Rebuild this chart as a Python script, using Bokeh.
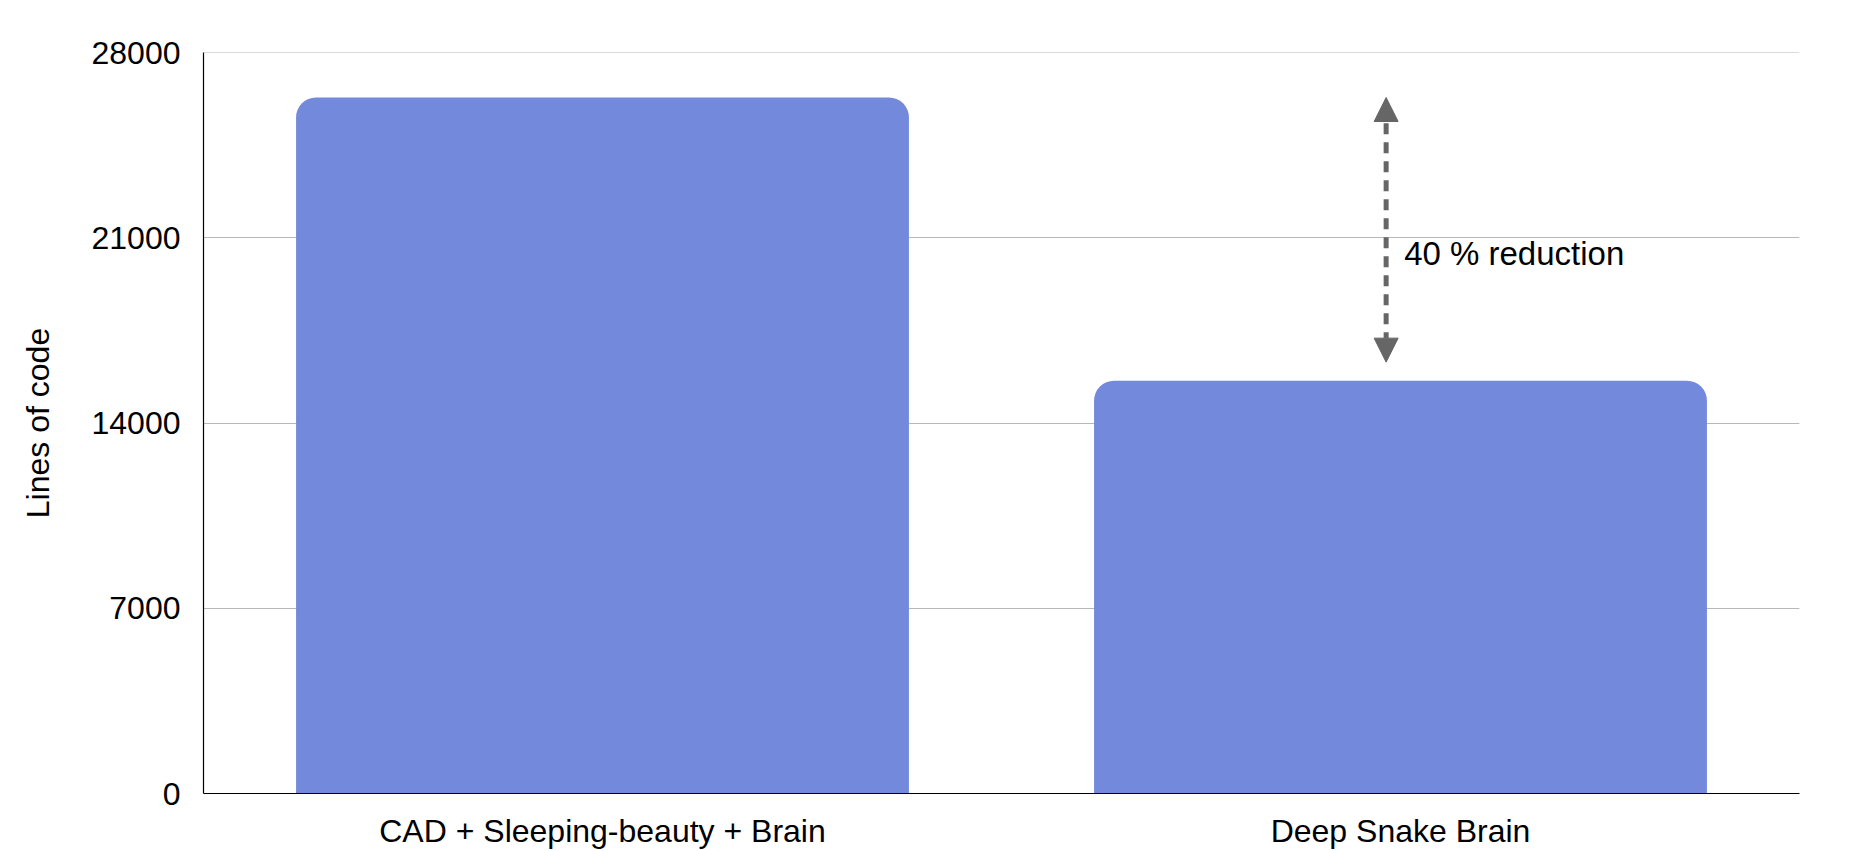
from bokeh.plotting import figure
from bokeh.models import FixedTicker, Range1d, Arrow, NormalHead, ColumnDataSource, Span
from bokeh.core.properties import value
from bokeh.embed import file_html
from bokeh.resources import INLINE

# ---- data ----
categories = ["CAD + Sleeping-beauty + Brain", "Deep Snake Brain"]
lines_of_code = [26300, 15600]
y_ticks = [0, 7000, 14000, 21000, 28000]
y_max = 28000
annotation_text = "40 % reduction"
arrow_gap = 700          # gap between arrow tip and lower bar (data units)
label_y = 20400          # baseline of annotation text (data units)

FONT = "Liberation Sans"
BAR_COLOR = "#7389DB"
GREY = "#666666"
GRID = "#b8b8b8"

x_pos = [i + 0.5 for i in range(len(categories))]
src = ColumnDataSource(dict(x=x_pos, top=lines_of_code, cat=categories))

p = figure(width=1839, height=851, output_backend="svg", toolbar_location=None,
           x_range=Range1d(0, len(categories)), y_range=Range1d(0, y_max),
           min_border_left=203, min_border_right=40, min_border_top=52, min_border_bottom=57)
p.outline_line_color = None
p.background_fill_color = "white"

p.vbar(x="x", top="top", width=0.768, bottom=0, source=src,
       fill_color=BAR_COLOR, line_color=None, border_radius=(20, 20, 0, 0))

# axes
p.xaxis.ticker = FixedTicker(ticks=x_pos)
p.xaxis.major_label_overrides = {x: c for x, c in zip(x_pos, categories)}
p.yaxis.ticker = FixedTicker(ticks=y_ticks)
for ax in (p.xaxis, p.yaxis):
    ax.major_tick_line_color = None
    ax.minor_tick_line_color = None
    ax.major_tick_out = 0
    ax.major_tick_in = 0
    ax.axis_line_color = "black"
    ax.axis_line_width = 1.2
    ax.major_label_text_font = FONT
    ax.major_label_text_color = "black"
p.xaxis.major_label_text_font_size = "32px"
p.yaxis.major_label_text_font_size = "32px"
p.xaxis.major_label_standoff = 19
p.yaxis.major_label_standoff = 23
p.yaxis.axis_label = "Lines of code"
p.yaxis.axis_label_text_font = FONT
p.yaxis.axis_label_text_font_size = "32px"
p.yaxis.axis_label_text_font_style = "normal"
p.yaxis.axis_label_text_color = "black"
p.yaxis.axis_label_standoff = 33

p.xgrid.grid_line_color = None
p.ygrid.grid_line_color = GRID
p.ygrid.grid_line_width = 1
# top gridline at the end of the range
p.add_layout(Span(location=y_ticks[-1], dimension="width", line_color=GRID, line_width=1))

# annotation arrow
arrow_x = x_pos[1] - 0.018
arr = Arrow(x_start=arrow_x, y_start=lines_of_code[1] + arrow_gap,
            x_end=arrow_x, y_end=lines_of_code[0],
            line_color=GREY, line_width=5, line_dash="11 8",
            start=NormalHead(size=24, fill_color=GREY, line_color=GREY, line_width=1),
            end=NormalHead(size=24, fill_color=GREY, line_color=GREY, line_width=1))
p.add_layout(arr)

p.text(x=[arrow_x], y=[label_y], text=[annotation_text], x_offset=18,
       text_font=value(FONT), text_font_size="33px", text_color="black",
       text_baseline="alphabetic", text_align="left")

open("out.html", "w").write(file_html(p, INLINE))
